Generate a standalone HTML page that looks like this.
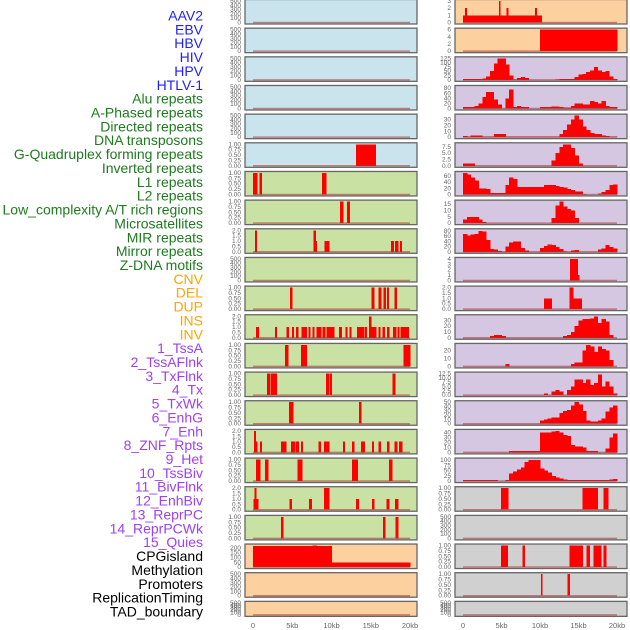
<!DOCTYPE html>
<html><head><meta charset="utf-8">
<style>
html,body{margin:0;padding:0;background:#fff;}
svg{display:block;font-family:"Liberation Sans",sans-serif;}
</style></head>
<body>
<svg id="chart" width="630" height="630" viewBox="0 0 630 630" xmlns="http://www.w3.org/2000/svg"></svg>
<script>
// ---------- data ----------
const trackLabels = ["AAV2","EBV","HBV","HIV","HPV","HTLV-1","Alu repeats","A-Phased repeats","Directed repeats","DNA transposons","G-Quadruplex forming repeats","Inverted repeats","L1 repeats","L2 repeats","Low_complexity A/T rich regions","Microsatellites","MIR repeats","Mirror repeats","Z-DNA motifs","CNV","DEL","DUP","INS","INV","1_TssA","2_TssAFlnk","3_TxFlnk","4_Tx","5_TxWk","6_EnhG","7_Enh","8_ZNF_Rpts","9_Het","10_TssBiv","11_BivFlnk","12_EnhBiv","13_ReprPC","14_ReprPCWk","15_Quies","CPGisland","Methylation","Promoters","ReplicationTiming","TAD_boundary"];
const labelGroups = [6,13,5,15,5];
const xTickValues = [0,5,10,15,20];
const xTickLabels = ["0","5kb","10kb","15kb","20kb"];

const ticksEmpty = [0,100,200,300,400,500];
const ticks1 = [0,0.25,0.5,0.75,1];
const ticks2 = [0,0.5,1,1.5,2];

// left column segments [startKb, endKb, value]
const segL5 = [[13.1,15.6,1]];
const segL6 = [[0,0.5,1],[0.8,1.1,1],[8.8,9.3,1]];
const segL7 = [[11.1,11.5,1],[12.0,12.3,1]];
const segL8 = [[0.25,0.45,2],[7.7,7.95,2],[7.95,8.1,1],[9.1,9.7,1],[17.6,17.9,1],[18.1,18.5,1],[18.7,18.95,1]];
const segL10 = [[4.7,5.0,1],[15.1,15.4,1],[16.0,16.3,1],[16.6,16.9,1],[17.1,17.3,1],[18.0,18.3,1]];
const segL11 = [[0.38,0.72,1],[2.8,3.01,1],[4.25,4.54,1],[4.97,5.18,1],[5.48,5.73,1],[6.16,6.84,1],[7.09,7.26,1],[7.56,7.77,1],[8.07,8.7,1],[8.83,9.21,1],[9.38,10.32,1],[10.96,11.3,1],[11.76,11.97,1],[12.27,12.48,1],[13.25,14.14,1],[14.27,14.48,1],[14.78,15.03,2],[15.03,15.67,1],[15.97,16.22,1],[16.52,16.77,1],[17.07,17.32,1],[17.83,18.22,1],[18.39,18.64,1],[18.81,19.58,1],[19.62,19.79,1]];
const segL12 = [[4.08,4.46,1],[6.11,6.84,1],[19.15,20,1]];
const segL13 = [[1.78,2.21,1],[2.29,3.01,1],[9.3,9.6,1],[9.77,10.02,1],[17.75,18.09,1]];
const segL14 = [[4.59,5.1,1],[13.5,13.76,1]];
const segL15 = [[0.13,0.34,2],[0.34,0.51,1],[0.89,1.1,1],[3.57,3.82,1],[3.91,4.2,1],[4.84,5.35,1],[5.48,5.82,1],[6.11,6.33,1],[8.32,8.62,1],[9.04,9.72,1],[11.46,11.68,1],[12.61,12.87,1],[13.76,14.23,1],[15.16,15.37,1],[15.97,16.26,1],[17.07,17.32,1],[18.0,18.34,1],[18.6,19.02,1]];
const segL16 = [[0.38,0.93,1],[1.53,1.91,1],[5.69,6.28,1],[12.61,13.33,1],[17.32,17.71,1]];
const segL17 = [[0.08,0.64,1],[0.21,0.42,2],[4.67,4.93,1],[7.13,7.47,1],[9.04,9.68,2],[13.12,13.46,1],[15.16,15.41,1],[17.03,17.32,1],[18.09,18.47,1]];
const segL18 = [[3.57,3.82,1],[16.56,16.82,1],[18.17,18.47,1]];
const segL19 = [[0,10,220],[7.6,8.1,225],[10,20,50]];

// right column: segments and 0.5kb bins
const segR0 = [[0,10.2,1],[0.26,0.47,2],[4.66,4.84,3],[5.66,5.87,2],[9.33,9.54,2]];
const segR1 = [[10,20,6]];
const binsR2 = [5,5,5,5,5,8,20,50,95,125,125,90,25,3,10,15,10,0,0,0,0,0,0,0,3,5,5,5,5,15,30,35,45,55,75,55,45,50,20,5];
const binsR3 = [5,5,5,10,20,45,65,65,35,15,0,40,75,5,10,5,5,0,0,0,5,5,5,8,8,5,3,3,10,20,20,15,15,30,25,20,30,10,5,5];
const binsR4 = [2,1,3,3,3,1,1,1,5,5,5,1,1,1,1,1,1,1,1,1,1,1,1,1,1,5,12,22,30,37,30,18,12,7,5,5,3,2,1,1];
const binsR5 = [1,1,1,0,0,0,0,0,0,0,0,0,0,0,0,0,0,0,0,0,0,0,0,2,5,7.5,8.5,8.5,7,4,1,0,0,0,0,0,0,0,0,0];
const binsR6 = [70,65,55,45,20,20,18,5,5,5,5,30,55,50,25,25,25,25,25,25,25,30,30,30,28,25,22,18,15,10,10,2,0,0,0,3,8,15,30,33];
const binsR7 = [3,5,5,5,3,1,0,0,0,0,0,0,0,0,0,0,0,0,0,0,0,0,0,4,14,17,13,11,10,4,0,0,0,0,0,0,0,0,0,0];
const binsR8 = [68,62,65,68,80,78,45,10,8,3,0,20,35,40,40,15,5,0,0,0,15,22,28,25,18,10,2,0,5,7,0,0,0,0,0,8,12,25,18,12];
const segR9 = [[13.9,14.9,4],[14.9,15.1,1]];
const segR10 = [[10.5,11.5,1],[13.86,14.3,2],[14.3,15.4,1]];
const binsR11 = [0,0,0,0,0,0,0,3,5,5,3,0,0,0,0,0,0,0,0,0,0,0,0,0,0,0,3,5,10,20,30,32,32,33,37,25,32,28,5,0];
const binsR12 = [0,0,0,0,0,0,0,0,0,0,0,3,0,0,0,0,0,0,0,0,0,0,0,0,0,0,0,0,3,5,5,20,27,25,18,25,22,20,8,0];
const binsR13 = [0,0,0,0,0,0,0,0,0,0,0,0,0,0,0,0,0,0,0,0,0,1,0,2,3,2,0,3,5,9,9,7,9,6,7,12,5,8,5,1];
const binsR14 = [0,0,0,0,0,0,0,0,0,0,0,0,0,0,0,0,0,0,0,0,8,10,12,15,15,25,30,32,42,50,45,30,8,5,5,8,12,28,38,42];
const binsR15 = [0,0,0,0,0,0,0,0,0,0,0,0,3,3,3,3,3,3,3,3,40,40,40,42,43,40,35,33,15,12,12,10,3,3,3,0,0,8,30,38];
const binsR16 = [5,5,5,5,5,5,5,5,5,0,0,5,35,45,55,65,90,100,100,100,60,50,40,25,18,12,8,5,5,5,5,5,5,5,5,5,5,5,8,10];
const segR17 = [[4.92,5.87,1],[15.5,17.5,1],[18.26,18.83,1]];
const segR19 = [[4.92,5.79,1],[7.73,8.03,1],[13.86,15.5,1],[16.02,16.45,1],[16.97,17.96,1],[18.26,18.61,1]];
const segR20 = [[10.1,10.3,1],[13.56,13.86,1]];
</script>
<script>
const svg = document.getElementById('chart');
const NS = 'http://www.w3.org/2000/svg';
function mk(tag, attrs, parent){
  const e = document.createElementNS(NS, tag);
  for (const k in attrs) e.setAttribute(k, attrs[k]);
  (parent||svg).appendChild(e);
  return e;
}
function binsToSegs(b){ return b.map((v,i)=>[i*0.5,(i+1)*0.5,v]).filter(s=>s[2]>0); }

const BLUE='#c9e4ec', GREEN='#c9e1a3', ORANGE='#fdd0a0', PURPLE='#d5c6e2', GRAY='#d0d0d0';
const leftPanels = [
  {bg:BLUE,ticks:ticksEmpty,segs:[]},{bg:BLUE,ticks:ticksEmpty,segs:[]},{bg:BLUE,ticks:ticksEmpty,segs:[]},
  {bg:BLUE,ticks:ticksEmpty,segs:[]},{bg:BLUE,ticks:ticksEmpty,segs:[]},{bg:BLUE,ticks:ticks1,segs:segL5},
  {bg:GREEN,ticks:ticks1,segs:segL6},{bg:GREEN,ticks:ticks1,segs:segL7},{bg:GREEN,ticks:ticks2,segs:segL8},
  {bg:GREEN,ticks:ticksEmpty,segs:[]},{bg:GREEN,ticks:ticks1,segs:segL10},{bg:GREEN,ticks:ticks2,segs:segL11},
  {bg:GREEN,ticks:ticks1,segs:segL12},{bg:GREEN,ticks:ticks1,segs:segL13},{bg:GREEN,ticks:ticks1,segs:segL14},
  {bg:GREEN,ticks:ticks2,segs:segL15},{bg:GREEN,ticks:ticks1,segs:segL16},{bg:GREEN,ticks:ticks2,segs:segL17},
  {bg:GREEN,ticks:ticks1,segs:segL18},{bg:ORANGE,ticks:[0,50,100,150,200],ymax:225,segs:segL19},
  {bg:ORANGE,ticks:ticksEmpty,segs:[]},{bg:ORANGE,ticks:ticksEmpty,segs:[]}
];
const rightPanels = [
  {bg:ORANGE,ticks:[0,1,2,3],segs:segR0},{bg:ORANGE,ticks:[0,2,4,6],segs:segR1},
  {bg:PURPLE,ticks:[0,25,50,75,100,125],segs:binsToSegs(binsR2)},
  {bg:PURPLE,ticks:[0,20,40,60,80],ymax:85,segs:binsToSegs(binsR3)},
  {bg:PURPLE,ticks:[0,10,20,30],ymax:37,segs:binsToSegs(binsR4)},
  {bg:PURPLE,ticks:[0,2.5,5,7.5],ymax:8.5,segs:binsToSegs(binsR5),fmt:1},
  {bg:PURPLE,ticks:[0,20,40,60],ymax:70,segs:binsToSegs(binsR6)},
  {bg:PURPLE,ticks:[0,5,10,15],ymax:17,segs:binsToSegs(binsR7)},
  {bg:PURPLE,ticks:[0,20,40,60,80],ymax:82,segs:binsToSegs(binsR8)},
  {bg:PURPLE,ticks:[0,1,2,3,4],segs:segR9},
  {bg:PURPLE,ticks:ticks2,segs:segR10},
  {bg:PURPLE,ticks:[0,10,20,30],ymax:37,segs:binsToSegs(binsR11)},
  {bg:PURPLE,ticks:[0,10,20],ymax:27,segs:binsToSegs(binsR12)},
  {bg:PURPLE,ticks:[0,2.5,5,7.5,10,12.5],segs:binsToSegs(binsR13),fmt:1},
  {bg:PURPLE,ticks:[0,10,20,30,40,50],segs:binsToSegs(binsR14)},
  {bg:PURPLE,ticks:[0,10,20,30,40],ymax:43,segs:binsToSegs(binsR15)},
  {bg:PURPLE,ticks:[0,25,50,75,100],ymax:102,segs:binsToSegs(binsR16)},
  {bg:GRAY,ticks:ticks1,segs:segR17},{bg:GRAY,ticks:ticksEmpty,segs:[]},
  {bg:GRAY,ticks:ticks1,segs:segR19},{bg:GRAY,ticks:ticks1,segs:segR20},
  {bg:GRAY,ticks:ticksEmpty,segs:[]}
];

function fmtTick(t, ticks, fmt){
  const maxT = ticks[ticks.length-1];
  if (maxT===1) return t.toFixed(2);
  if (maxT===2 || fmt) return t.toFixed(1);
  return String(t);
}

function drawColumn(panels, col, colName){
  const g = mk('g',{});
  
  
  const xs = kb => col.x0 + kb/20*(col.x1-col.x0);
  panels.forEach((p,i)=>{
    const top = -0.5 + 28.66*i;
    const h = (i===21) ? 15 : 24.5;
    const zeroY = top + h - 1.5;
    const plotH = h - 3;
    const ticks = p.ticks;
    const ymax = p.ymax || ticks[ticks.length-1];
    const ys = v => zeroY - v/ymax*plotH;
    const pg = mk('g',{},g);
    
    
    const bg = mk('rect',{x:col.bx0,y:top,width:col.bx1-col.bx0,height:h,fill:p.bg,stroke:'#666','stroke-width':1.3},pg);
    
    
    p.segs.forEach(s=>{
      const x1 = xs(s[0]), x2 = xs(s[1]);
      const b = mk('rect',{x:x1,y:ys(s[2]),width:Math.max(1.2,x2-x1+0.4),height:zeroY-ys(s[2]),fill:'#ff0000','shape-rendering':'crispEdges'},pg);
      
      
    });
    const bl = mk('line',{x1:xs(0),x2:xs(20),y1:zeroY,y2:zeroY,stroke:'rgba(170,50,50,0.55)','stroke-width':1.5},pg);
    
    
    ticks.forEach(t=>{
      const tx = mk('text',{x:col.bx0-4,y:ys(t)+2,'font-size':6.5,fill:'#666','text-anchor':'end'},pg);
      tx.textContent = fmtTick(t,ticks,p.fmt);
      
      
    });
  });
  xTickValues.forEach((v,k)=>{
    const tx = mk('text',{x:xs(v),y:628,'font-size':7.5,fill:'#666','text-anchor':'middle'},g);
    tx.textContent = xTickLabels[k];
    
    
  });
}
drawColumn(leftPanels,{x0:253,x1:410,bx0:245,bx1:417},'left-track-column');
drawColumn(rightPanels,{x0:463,x1:617,bx0:455,bx1:627},'right-track-column');

// labels
const groupColors = ['#1f1fff','#1e7b1e','#ffa500','#a040f0','#000000'];
const colorList = [];
labelGroups.forEach((n,gi)=>{ for(let k=0;k<n;k++) colorList.push(groupColors[gi]); });
const lg = mk('g',{});


trackLabels.forEach((t,i)=>{
  const tx = mk('text',{x:203,y:20.5+13.86*i,'font-size':14,fill:colorList[i],'text-anchor':'end'},lg);
  tx.textContent = t;
  
  
});
</script>
</body></html>
